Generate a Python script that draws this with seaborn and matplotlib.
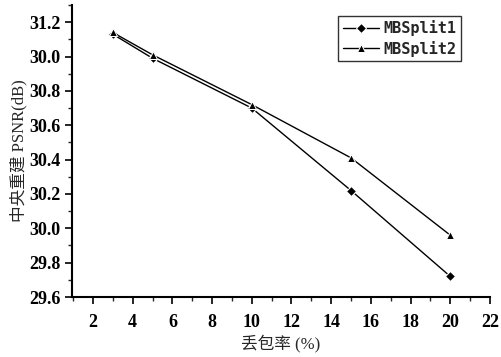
import matplotlib
matplotlib.use("Agg")
import matplotlib.pyplot as plt
from matplotlib.ticker import MultipleLocator
import numpy as np
import pandas as pd
import seaborn as sns

# data
loss_rate = [3, 5, 10, 15, 20]
psnr_split1 = [31.13, 30.99, 30.70, 30.22, 29.72]
psnr_split2 = [31.14, 31.01, 30.72, 30.41, 29.96]
series_names = ["MBSplit1", "MBSplit2"]
y_ticks = [29.6, 29.8, 30.0, 30.2, 30.4, 30.6, 30.8, 31.0, 31.2]
y_tick_labels = ["29.6", "29.8", "30.0", "30.2", "30.4", "30.6", "30.8", "30.0", "31.2"]
x_ticks = [2, 4, 6, 8, 10, 12, 14, 16, 18, 20, 22]

df = pd.DataFrame({
    "loss": loss_rate * 2,
    "psnr": psnr_split1 + psnr_split2,
    "method": [series_names[0]] * len(loss_rate) + [series_names[1]] * len(loss_rate),
})

sns.set_style("ticks")
plt.rcParams['font.family'] = ['Liberation Serif', 'Noto Sans CJK SC', 'DejaVu Sans']

fig = plt.figure(figsize=(5.01, 3.57), dpi=100)
ax = fig.add_axes([0.144, 0.168, 0.834, 0.818])

sns.lineplot(data=df, x="loss", y="psnr", hue="method", style="method",
             markers={"MBSplit1": "D", "MBSplit2": "^"}, dashes=False,
             palette={"MBSplit1": "black", "MBSplit2": "black"},
             markersize=6, linewidth=1.0, ax=ax)
for line in ax.lines:
    if line.get_marker() == "D":
        line.set_markersize(5)

ax.set_xlim(0.95, 22)
ax.set_ylim(29.6, 31.3)
ax.set_xticks(x_ticks)
ax.set_xticklabels([str(t) for t in x_ticks], fontsize=13, fontweight="bold")
ax.set_yticks(y_ticks)
ax.set_yticklabels(y_tick_labels, fontsize=13, fontweight="bold")
ax.xaxis.set_minor_locator(MultipleLocator(1))
ax.yaxis.set_minor_locator(MultipleLocator(0.1))
ax.tick_params(which="major", direction="out", length=5, width=1.2, colors="black")
ax.tick_params(axis="x", which="major", pad=7)
ax.tick_params(which="minor", direction="out", length=3, width=1.0)
for s in ["left", "bottom"]:
    ax.spines[s].set_linewidth(1.5)
    ax.spines[s].set_color("black")
sns.despine(ax=ax)

ax.set_xlabel("丢包率 (%)", fontsize=12, labelpad=3)
ax.set_ylabel("中央重建 PSNR(dB)", fontsize=12, labelpad=1)

leg = ax.legend(loc="upper right", bbox_to_anchor=(0.95, 0.99), frameon=True,
                fancybox=False, edgecolor="black", handlelength=2.4,
                prop={"family": "DejaVu Sans Mono", "size": 11, "weight": "bold"},
                borderpad=0.3, labelspacing=0.3, handletextpad=0.3)
leg.get_frame().set_linewidth(1.0)

fig.savefig("out.png", dpi=100)
